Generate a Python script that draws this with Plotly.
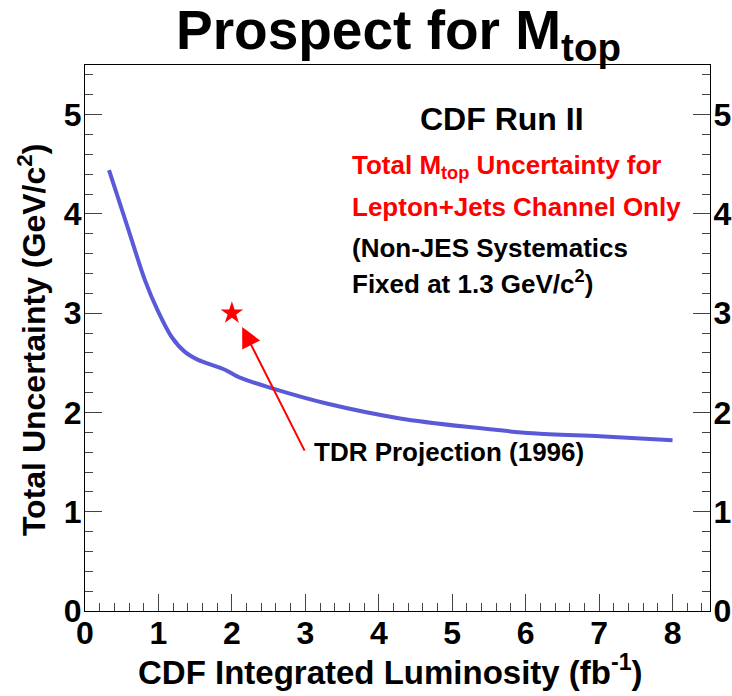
import plotly.graph_objects as go

# Data
lumi = [0.327, 0.57, 0.817, 1.0, 1.18, 1.36, 1.54, 1.906, 2.11, 2.56, 3.29, 4.29, 5.20, 6.10, 7.01, 8.0]
unc = [4.44, 3.89, 3.33, 3.01, 2.76, 2.61, 2.53, 2.43, 2.35, 2.24, 2.09, 1.94, 1.855, 1.79, 1.76, 1.72]
tdr_x = [2.0]
tdr_y = [3.0]
arrow_head = (2.14, 2.86)
arrow_tail = (3.0, 1.60)

FONT = "Liberation Sans, Arial, Helvetica, sans-serif"

fig = go.Figure()
fig.add_trace(go.Scatter(x=lumi, y=unc, mode="lines",
                         line=dict(color="#5a5ad8", width=4, shape="spline", smoothing=0.8),
                         hoverinfo="skip", showlegend=False))
fig.add_trace(go.Scatter(x=tdr_x, y=tdr_y, mode="markers",
                         marker=dict(symbol="star", size=17, color="red", line=dict(width=0)),
                         hoverinfo="skip", showlegend=False))
fig.add_trace(go.Scatter(x=[], y=[], yaxis="y2", showlegend=False))

axis_common = dict(
    ticks="inside", ticklen=17, tickwidth=1, tickcolor="#444", automargin=False,
    showgrid=False, zeroline=False, showline=True, linecolor="black", linewidth=1,
    tickfont=dict(family=FONT, size=32, color="black", weight="bold"),
)
minor = dict(dtick=0.2, ticks="inside", ticklen=8, tickcolor="#444")

fig.update_layout(
    width=732, height=696,
    margin=dict(l=85, r=22, t=65, b=85),
    paper_bgcolor="white", plot_bgcolor="white",
    xaxis=dict(range=[0, 8.51], dtick=1, tick0=0, mirror=True, minor=minor,
               ticklabelstandoff=-6, **axis_common),
    yaxis=dict(range=[0, 5.5], dtick=1, tick0=0, minor=minor,
               ticklabelstandoff=-4, **axis_common),
    yaxis2=dict(range=[0, 5.5], dtick=1, tick0=0, overlaying="y", side="right",
                minor=minor, ticklabelstandoff=-4, **axis_common),
)

ann_font = dict(family=FONT, size=26, weight="bold")
fig.add_annotation(text="Prospect for M<sub>top</sub>", xref="paper", yref="paper",
                   x=0.502, y=1, yanchor="bottom", yshift=-6, showarrow=False,
                   font=dict(family=FONT, size=55, color="black", weight="bold"))
fig.add_annotation(text="CDF Integrated Luminosity (fb<sup>-1</sup>)", xref="paper", yref="paper",
                   x=0.488, y=-0.108, xanchor="center", yanchor="middle", showarrow=False,
                   font=dict(family=FONT, size=33, color="black", weight="bold"))
fig.add_annotation(text="Total Uncertainty (GeV/c<sup>2</sup>)", xref="paper", yref="paper",
                   x=-0.085, y=0.496, xanchor="center", yanchor="middle", textangle=-90,
                   showarrow=False,
                   font=dict(family=FONT, size=32, color="black", weight="bold"))
fig.add_annotation(text="CDF Run II", xref="paper", yref="paper", x=0.667, y=0.901,
                   xanchor="center", yanchor="middle", showarrow=False,
                   font=dict(family=FONT, size=32, color="black", weight="bold"))
fig.add_annotation(text="Total M<sub>top</sub> Uncertainty for", xref="paper", yref="paper",
                   x=0.424, y=0.815, xanchor="left", yanchor="middle", showarrow=False,
                   font=dict(**ann_font, color="red"))
fig.add_annotation(text="Lepton+Jets Channel Only", xref="paper", yref="paper",
                   x=0.424, y=0.740, xanchor="left", yanchor="middle", showarrow=False,
                   font=dict(**ann_font, color="red"))
fig.add_annotation(text="(Non-JES Systematics", xref="paper", yref="paper",
                   x=0.424, y=0.665, xanchor="left", yanchor="middle", showarrow=False,
                   font=dict(**ann_font, color="black"))
fig.add_annotation(text="Fixed at 1.3 GeV/c<sup>2</sup>)", xref="paper", yref="paper",
                   x=0.424, y=0.601, xanchor="left", yanchor="middle", showarrow=False,
                   font=dict(**ann_font, color="black"))
fig.add_annotation(text="TDR Projection (1996)", x=arrow_tail[0] + 0.09, y=arrow_tail[1],
                   xanchor="left", yanchor="middle", showarrow=False,
                   font=dict(**ann_font, color="black"))
fig.add_annotation(x=arrow_head[0], y=arrow_head[1], ax=arrow_tail[0], ay=arrow_tail[1],
                   axref="x", ayref="y", text="", showarrow=True,
                   arrowhead=2, arrowsize=2.0, arrowwidth=2, arrowcolor="red")

fig.write_html("out.html", config={"displayModeBar": False},
               post_script="document.body.style.margin='0';")
